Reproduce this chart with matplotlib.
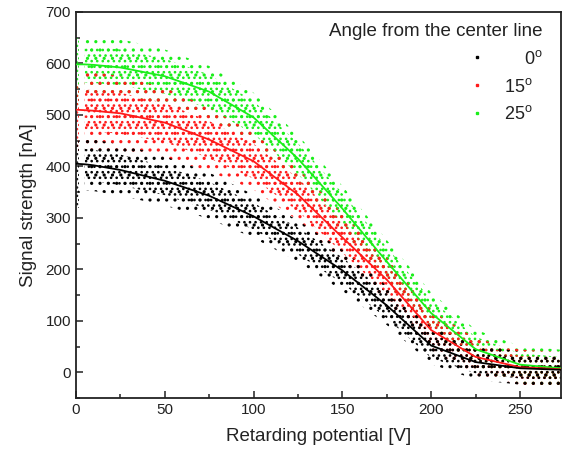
import numpy as np
import matplotlib
matplotlib.use("Agg")
import matplotlib.pyplot as plt
from matplotlib.lines import Line2D
from matplotlib.ticker import MultipleLocator

plt.rcParams['font.family'] = ['Liberation Sans', 'DejaVu Sans']
plt.rcParams['mathtext.fontset'] = 'custom'
plt.rcParams['mathtext.rm'] = 'Liberation Sans'
plt.rcParams['hatch.linewidth'] = 1.1

# retarding potential samples [V]
volts = [0, 5, 10, 25, 50, 75, 100, 125, 150, 175, 200, 225, 250, 273]

# fitted curves [nA]
fit_0 = [405, 404, 402, 393, 372, 343, 303, 255, 198, 130, 52, 20, 8, 5]
fit_15 = [510, 509, 508, 503, 485, 452, 410, 345, 262, 180, 82, 30, 10, 6]
fit_25 = [598, 598, 597, 592, 575, 545, 495, 415, 318, 215, 115, 45, 15, 8]

# half-width of the dense part of each point cloud [nA]
core_0 = [30, 30, 30, 30, 28, 27, 26, 26, 25, 25, 24, 22, 20, 20]
core_15 = [40, 40, 40, 40, 38, 36, 34, 32, 30, 28, 26, 24, 22, 22]
core_25 = [35, 35, 35, 35, 34, 33, 32, 30, 30, 28, 26, 24, 22, 22]
# half-width of the sparse outer part [nA]
outer_0 = [50, 50, 50, 50, 48, 45, 42, 40, 40, 38, 36, 34, 32, 32]
outer_15 = [75, 75, 75, 72, 68, 62, 55, 50, 46, 42, 38, 36, 34, 34]
outer_25 = [55, 55, 55, 55, 52, 50, 48, 46, 44, 42, 40, 38, 36, 36]

# vertical streak of readings at 0 V [nA]
streak_lo = [320, 430, 520]
streak_hi = [450, 560, 650]

labels = ['\u2007\u20070$^\\mathrm{o}$', '15$^\\mathrm{o}$', '25$^\\mathrm{o}$']
colors = ['#000000', '#ff1a1a', '#1aee1a']
TXT = '#222222'

fig = plt.figure(figsize=(5.62, 4.55), dpi=100)
ax = fig.add_axes([0.135, 0.125, 0.863, 0.849])

v = np.array(volts, dtype=float)
series = [
    (fit_25, core_25, outer_25, colors[2], 2),
    (fit_15, core_15, outer_15, colors[1], 1),
    (fit_0, core_0, outer_0, colors[0], 0),
]
mask = v >= 5
for fit, core, outer, col, i in series:
    f = np.array(fit, float)
    c = np.array(core, float)
    o = np.array(outer, float)
    # sparse fringe, then denser core of the point cloud
    ax.fill_between(v[mask], (f - o)[mask], (f + o)[mask], facecolor='none',
                    edgecolor=col, hatch='..', linewidth=0, zorder=2)
    ax.fill_between(v[mask], (f - c)[mask], (f + c)[mask], facecolor='none',
                    edgecolor=col, hatch='...', linewidth=0, zorder=2)
    ax.fill_between([0, 1.5], [streak_lo[i]] * 2, [streak_hi[i]] * 2,
                    facecolor='none', edgecolor=col, hatch='....',
                    linewidth=0, zorder=2)

for fit, core, outer, col, i in series:
    ax.plot(volts, fit, color=col, lw=1.3, zorder=4)

ax.set_xlim(0, 273)
ax.set_ylim(-50, 700)
ax.xaxis.set_major_locator(MultipleLocator(50))
ax.xaxis.set_minor_locator(MultipleLocator(25))
ax.yaxis.set_major_locator(MultipleLocator(100))
ax.yaxis.set_minor_locator(MultipleLocator(50))
ax.tick_params(which='both', direction='in', top=False, right=False,
               labelsize=11, colors=TXT, width=1.1)
ax.tick_params(which='major', length=5)
ax.tick_params(which='minor', length=3)
for s in ax.spines.values():
    s.set_linewidth(1.3)
    s.set_color(TXT)

ax.set_xlabel('Retarding potential [V]', fontsize=13.5, color=TXT, labelpad=8)
ax.set_ylabel('Signal strength [nA]', fontsize=13.5, color=TXT, labelpad=6)

handles = [Line2D([], [], ls='none', marker='s', ms=1.8, color=c) for c in colors]
leg = ax.legend(handles, labels, title='Angle from the center line',
                loc='upper right', bbox_to_anchor=(0.985, 1.0),
                frameon=False, fontsize=13, title_fontsize=13.5,
                handlelength=1.2, handletextpad=0.9, labelspacing=0.55,
                borderaxespad=0.3, borderpad=0.3)
leg._legend_box.align = 'right'
for t in leg.get_texts():
    t.set_color(TXT)
leg.get_title().set_color(TXT)

fig.savefig('out.png', dpi=100)
